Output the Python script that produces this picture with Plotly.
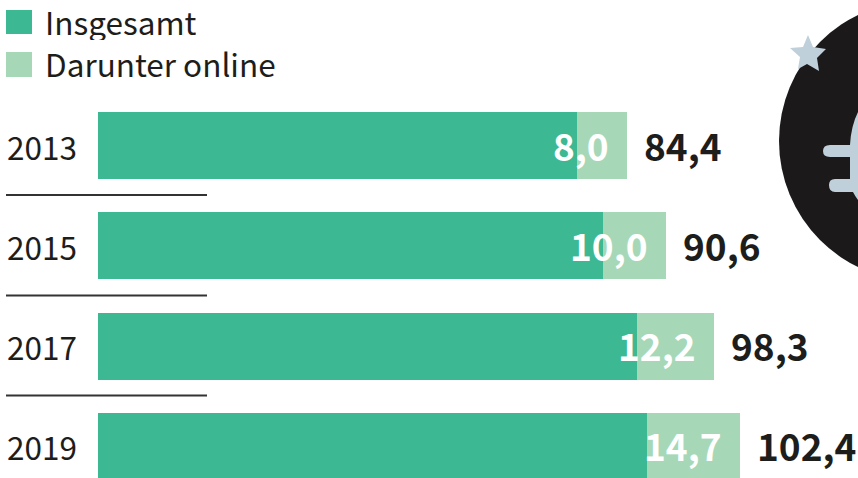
import plotly.graph_objects as go

years = ["2013", "2015", "2017", "2019"]
totals = [84.4, 90.6, 98.3, 102.4]
online = [8.0, 10.0, 12.2, 14.7]
legend_labels = ["Insgesamt", "Darunter online"]
GREEN = "#3CB893"
LIGHT = "#A6D8B8"
DARK = "#1d1d1b"
ICE = "#BFD0DB"
FONT = "Noto Sans CJK SC"
W, H = 858, 478


def de(v):
    return f"{v:.1f}".replace(".", ",")


offline = [round(t - o, 1) for t, o in zip(totals, online)]
fig = go.Figure()
fig.add_bar(y=years, x=offline, orientation="h", marker=dict(color=GREEN, line_width=0), width=0.668, name=legend_labels[0])
fig.add_bar(y=years, x=online, orientation="h", marker=dict(color=LIGHT, line_width=0), width=0.668, name=legend_labels[1])

scale = 6.265
pitch = 100.33
ann = []
for i, (y, t, o) in enumerate(zip(years, totals, online)):
    ann.append(dict(x=t, y=i, xref="x", yref="y", text=f"<b>{de(o)}</b>", xanchor="right", xshift=-16, yshift=1,
                    showarrow=False, font=dict(family=FONT, size=37, color="white")))
    ann.append(dict(x=t, y=i, xref="x", yref="y", text=f"<b>{de(t)}</b>", xanchor="left", xshift=15, yshift=1,
                    showarrow=False, font=dict(family=FONT, size=37, color=DARK)))
    ann.append(dict(x=5 / W, y=i, xref="paper", yref="y", text=y, xanchor="left", yshift=0,
                    showarrow=False, font=dict(family=FONT, size=31.5, color=DARK)))
for label, yc in zip(legend_labels, [21.5, 63]):
    ann.append(dict(x=43 / W, y=1 - yc / H, xref="paper", yref="paper", text=label, xanchor="left", yanchor="middle",
                    height=38, valign="middle", showarrow=False, font=dict(family=FONT, size=31.5, color=DARK)))


def rect(x0, y0, x1, y1, color):
    return dict(type="rect", xref="paper", yref="paper", x0=x0 / W, x1=x1 / W, y0=1 - y0 / H, y1=1 - y1 / H,
                fillcolor=color, line_width=0, layer="above")


def poly(cmds, color):
    parts = []
    for c in cmds:
        parts.append(c[0] + " " + " ".join(
            f"{c[i] / W:.5f},{1 - c[i + 1] / H:.5f}" for i in range(1, len(c), 2)))
    return dict(type="path", xref="paper", yref="paper", path=" ".join(parts) + " Z",
                fillcolor=color, line_width=0, layer="above")


shapes = [rect(6, 10, 32, 34, GREEN), rect(6, 52, 32, 77, LIGHT)]
for yl in [195, 295.5, 395.5]:
    shapes.append(rect(6, yl - 1, 207, yl + 1, "#333333"))
shapes.append(dict(type="circle", xref="paper", yref="paper", x0=779 / W, x1=1059 / W, y0=1 - 1 / H, y1=1 - 281 / H,
                   fillcolor="#1b191a", line_width=0, layer="above"))
euro = [
    ("M", 858, 112), ("Q", 851, 126, 850, 145), ("L", 830, 145),
    ("Q", 823, 145, 823, 151), ("Q", 823, 157, 830, 157), ("L", 850, 157),
    ("L", 850, 179), ("L", 835, 179), ("Q", 829, 179, 829, 185), ("Q", 829, 192, 835, 192),
    ("L", 853, 192), ("Q", 855, 196, 858, 200),
]
shapes.append(poly(euro, ICE))
star = [("M", 808, 35), ("L", 813, 47), ("L", 826, 49), ("L", 817, 58), ("L", 819, 71), ("L", 807, 64),
        ("L", 798, 69), ("L", 800, 57), ("L", 790, 48), ("L", 803, 47)]
shapes.append(poly(star, ICE))

fig.update_layout(
    width=W, height=H, margin=dict(l=0, r=0, t=0, b=0), barmode="stack", showlegend=False,
    plot_bgcolor="white", paper_bgcolor="white", annotations=ann, shapes=shapes,
    font=dict(family=FONT, color=DARK),
    xaxis=dict(range=[-98 / scale, 760 / scale], showgrid=False, zeroline=False, showline=False,
               showticklabels=False, ticks="", fixedrange=True),
    yaxis=dict(type="category", range=[(478 - 145.5) / pitch, -145.5 / pitch], showgrid=False, zeroline=False,
               showline=False, ticks="", showticklabels=False, fixedrange=True),
)
fig.write_html("out.html", config={"displayModeBar": False},
               post_script="document.body.style.margin='0';document.body.style.overflow='hidden';")
